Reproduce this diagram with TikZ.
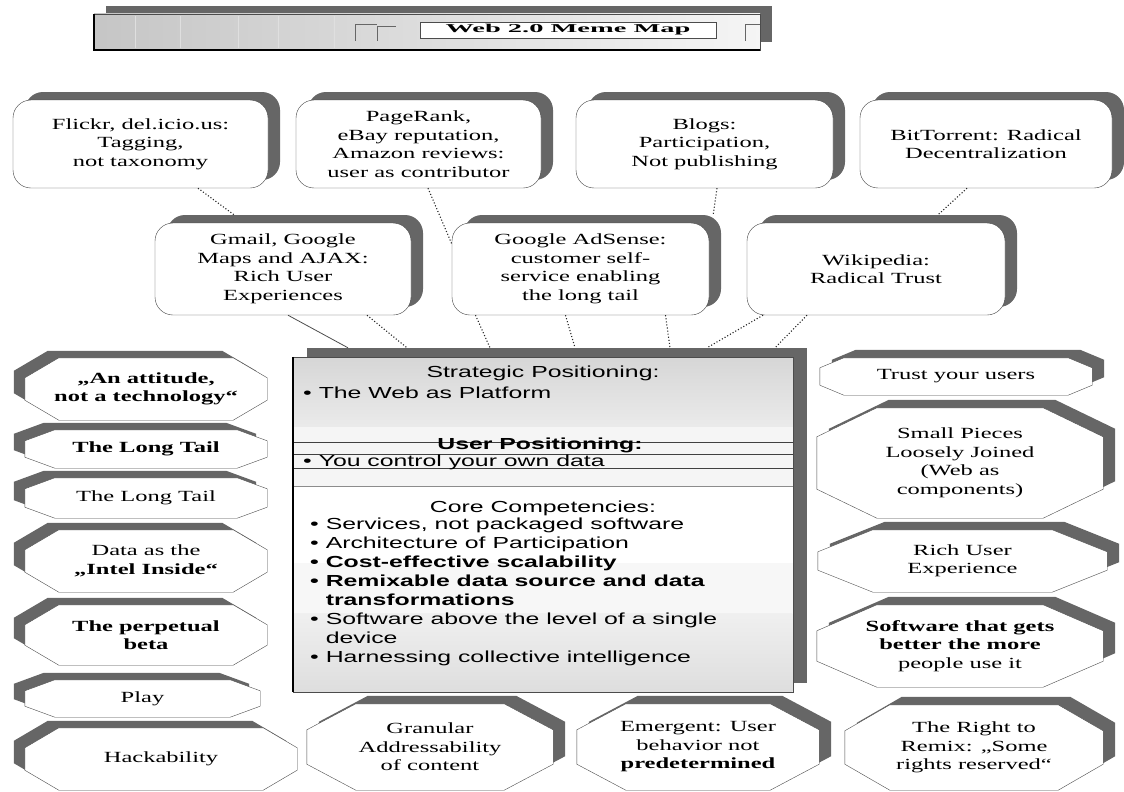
\documentclass[tikz,border=0pt]{standalone}
\usepackage{fontspec}
\setmainfont{Liberation Serif}[FakeStretch=1.58]
\setsansfont{Liberation Sans}[FakeStretch=1.55]
\usetikzlibrary{shadows}

\makeatletter
\pgfkeys{/pgf/octa xcut/.initial=34pt, /pgf/octa ycut/.initial=20pt}
\pgfdeclareshape{octabox}{%
  \inheritsavedanchors[from=rectangle]%
  \inheritanchorborder[from=rectangle]%
  \inheritanchor[from=rectangle]{center}%
  \inheritanchor[from=rectangle]{north}%
  \inheritanchor[from=rectangle]{south}%
  \inheritanchor[from=rectangle]{east}%
  \inheritanchor[from=rectangle]{west}%
  \inheritanchor[from=rectangle]{north east}%
  \inheritanchor[from=rectangle]{north west}%
  \inheritanchor[from=rectangle]{south east}%
  \inheritanchor[from=rectangle]{south west}%
  \backgroundpath{%
    \pgfmathsetlength\pgfutil@tempdima{\pgfkeysvalueof{/pgf/octa xcut}}%
    \pgfmathsetlength\pgfutil@tempdimb{\pgfkeysvalueof{/pgf/octa ycut}}%
    \southwest
    \edef\oct@l{\the\pgf@x}\edef\oct@b{\the\pgf@y}%
    \advance\pgf@x by\pgfutil@tempdima \edef\oct@lx{\the\pgf@x}%
    \advance\pgf@y by\pgfutil@tempdimb \edef\oct@by{\the\pgf@y}%
    \northeast
    \edef\oct@r{\the\pgf@x}\edef\oct@t{\the\pgf@y}%
    \advance\pgf@x by-\pgfutil@tempdima \edef\oct@rx{\the\pgf@x}%
    \advance\pgf@y by-\pgfutil@tempdimb \edef\oct@ty{\the\pgf@y}%
    \pgfpathmoveto{\pgfqpoint{\oct@l}{\oct@by}}%
    \pgfpathlineto{\pgfqpoint{\oct@l}{\oct@ty}}%
    \pgfpathlineto{\pgfqpoint{\oct@lx}{\oct@t}}%
    \pgfpathlineto{\pgfqpoint{\oct@rx}{\oct@t}}%
    \pgfpathlineto{\pgfqpoint{\oct@r}{\oct@ty}}%
    \pgfpathlineto{\pgfqpoint{\oct@r}{\oct@by}}%
    \pgfpathlineto{\pgfqpoint{\oct@rx}{\oct@b}}%
    \pgfpathlineto{\pgfqpoint{\oct@lx}{\oct@b}}%
    \pgfpathclose
  }%
}
\makeatother

\begin{document}
\begin{tikzpicture}[
    x=1pt, y=-1pt,
    font=\fontsize{15.5}{18.5}\selectfont,
    shadeR/.style={drop shadow={shadow xshift=12pt, shadow yshift=8pt, fill=black!60, opacity=1}},
    shadeL/.style={drop shadow={shadow xshift=-11pt, shadow yshift=7pt, fill=black!60, opacity=1}},
    memo/.style={rectangle, rounded corners=18pt, draw=black!75, fill=white, align=center, inner sep=2pt, minimum height=88pt, shadeR},
    facet/.style={octabox, octa xcut=34pt, octa ycut=20pt, draw=black!70, fill=white, align=center, inner sep=0pt},
    slim/.style={octa xcut=30pt, octa ycut=11pt},
    broad/.style={octa xcut=52pt, octa ycut=26pt},
    link/.style={dotted, line width=1.1pt, black!85},
    cellhead/.style={font=\sffamily\fontsize{16}{19}\selectfont, inner sep=0pt},
    bullets/.style={font=\sffamily\fontsize{16}{19}\selectfont, align=left, inner sep=0pt}
]
\useasboundingbox (0,0) rectangle (1124,792);

% title bar
\node[rectangle, minimum width=666pt, minimum height=36pt, draw=black!70, left color=gray!45, right color=gray!8, shadeR] (banner) at (427,32) {};
\foreach \bx in {135,180,238,278,334}
  \draw[gray!25] (\bx,16) -- (\bx,48);
\draw[line width=1.8pt] (banner.north west) |- (banner.south east);
\draw[black!60] (355,41) |- (377,24);
\draw[black!60] (377,41) |- (396,26);
\draw[black!60] (745,41) |- (760,24);
\node[draw=black!70, fill=white, minimum width=296pt, minimum height=16pt, inner sep=0pt, font=\bfseries\fontsize{12}{12}\selectfont] (title) at (568,30) {\scalebox{1.5}[1]{Web 2.0 Meme Map}};

% upper rows
\node[memo, minimum width=255pt] (flickr) at (140.5,144) {Flickr, del.icio.us:\\ Tagging,\\ not taxonomy};
\node[memo, minimum width=245pt] (pagerank) at (418.5,144) {PageRank,\\ eBay reputation,\\ Amazon reviews:\\ user as contributor};
\node[memo, minimum width=257pt] (blogs) at (704.5,144) {Blogs:\\ Participation,\\ Not publishing};
\node[memo, minimum width=252pt] (bittorrent) at (986,144) {BitTorrent: Radical\\ Decentralization};

\node[memo, minimum width=256pt, minimum height=92pt] (gmail) at (283,269) {Gmail, Google\\ Maps and AJAX:\\ Rich User\\ Experiences};
\node[memo, minimum width=257pt, minimum height=92pt] (adsense) at (580.5,269) {Google AdSense:\\ customer self-\\ service enabling\\ the long tail};
\node[memo, minimum width=258pt, minimum height=92pt] (wikipedia) at (876,269) {Wikipedia:\\ Radical Trust};

% centre block
\node[rectangle, minimum width=500pt, minimum height=335pt, draw=black!70, fill=white,
      drop shadow={shadow xshift=14pt, shadow yshift=9pt, fill=black!60, opacity=1}] (core) at (543,524.5) {};
\shade[top color=gray!32, bottom color=gray!16] (293.5,357.5) rectangle (792.5,427);
\fill[gray!8] (293.5,427) rectangle (792.5,486);
\fill[gray!6] (293.5,563) rectangle (792.5,613);
\shade[top color=gray!12, bottom color=gray!26] (293.5,613) rectangle (792.5,691.5);
\foreach \ly in {442,454,468}
  \draw[black!75, line width=0.8pt] (293,\ly) -- (793,\ly);
\draw[black!45] (293,486) -- (793,486);
\draw[black!70] (core.south west) rectangle (core.north east);
\draw[line width=2.5pt] (core.north west) -- (core.south west);

\node[cellhead] (strathead) at (543,373) {Strategic Positioning:};
\node[bullets, anchor=west] (stratlist) at (303,393) {\textbullet\ The Web as Platform};
\node[cellhead, font=\sffamily\bfseries\fontsize{16}{19}\selectfont] (userhead) at (540,445) {User Positioning:};
\node[bullets, anchor=west] (userlist) at (303,462) {\textbullet\ You control your own data};
\node[cellhead] (corehead) at (543,508) {Core Competencies:};
\node[bullets, anchor=north west] (corelist) at (310,518) {%
  \textbullet\ Services, not packaged software\\
  \textbullet\ Architecture of Participation\\
  \textbf{\textbullet\ Cost-effective scalability}\\
  \textbf{\textbullet\ Remixable data source and data}\\
  \textbf{\phantom{\textbullet\ }transformations}\\
  \textbullet\ Software above the level of a single\\
  \phantom{\textbullet\ }device\\
  \textbullet\ Harnessing collective intelligence};

% left column
\node[facet, shadeL, minimum width=242pt, minimum height=62pt, font=\bfseries\fontsize{15.5}{18.5}\selectfont] (attitude) at (146,389) {„An attitude,\\ not a technology“};
\node[facet, slim, shadeL, minimum width=242pt, minimum height=38pt, font=\bfseries\fontsize{15.5}{18.5}\selectfont] (longtailA) at (146,449) {The Long Tail};
\node[facet, slim, shadeL, minimum width=242pt, minimum height=40pt] (longtailB) at (146,498) {The Long Tail};
\node[facet, shadeL, minimum width=242pt, minimum height=62pt] (intel) at (146,561) {Data as the\\ \textbf{„Intel Inside“}};
\node[facet, shadeL, minimum width=242pt, minimum height=60pt, font=\bfseries\fontsize{15.5}{18.5}\selectfont] (beta) at (146,635) {The perpetual\\ beta};
\node[facet, slim, shadeL, minimum width=235pt, minimum height=37pt] (play) at (142.5,698.5) {Play};
\node[facet, shadeL, minimum width=272pt, minimum height=62pt] (hack) at (161,759) {Hackability};

% right column
\node[facet, slim, octa xcut=24pt, octa ycut=10pt, shadeR, minimum width=272pt, minimum height=37pt] (trust) at (956,376.5) {Trust your users};
\node[facet, octa xcut=60pt, octa ycut=29pt, shadeR, minimum width=286pt, minimum height=110pt] (pieces) at (960,463) {Small Pieces\\ Loosely Joined\\ (Web as\\ components)};
\node[facet, octa xcut=55pt, octa ycut=22pt, shadeR, minimum width=289pt, minimum height=62pt] (rich) at (962.5,561) {Rich User\\ Experience};
\node[facet, octa xcut=60pt, octa ycut=26pt, shadeR, minimum width=286pt, minimum height=82pt] (better) at (960,646) {\textbf{Software that gets}\\ \textbf{better the more}\\ people use it};
\node[facet, broad, octa xcut=45pt, shadeR, minimum width=258pt, minimum height=85pt] (remix) at (974,747.5) {The Right to\\ Remix: „Some\\ rights reserved“};

% bottom row
\node[facet, broad, octa xcut=49pt, shadeR, minimum width=246pt, minimum height=86pt] (granular) at (430,747) {Granular\\ Addressability\\ of content};
\node[facet, broad, octa xcut=49pt, shadeR, minimum width=242pt, minimum height=86pt] (emergent) at (698,747) {Emergent: User\\ behavior not\\ \textbf{predetermined}};

% links
\draw[link] ([xshift=57.5pt]flickr.south) -- ([xshift=-49pt,yshift=8pt]gmail.north);
\draw[link] ([xshift=9.5pt]pagerank.south) -- ([yshift=25pt]adsense.west);
\draw[link] ([xshift=12.5pt]blogs.south) -- ([xshift=4pt,yshift=8pt]adsense.north east);
\draw[link] ([xshift=-19pt]bittorrent.south) -- ([xshift=62pt,yshift=8pt]wikipedia.north);
\draw[black!70, line width=0.8pt] ([xshift=5pt]gmail.south) -- ([xshift=-195pt,yshift=9pt]core.north);
\draw[link] ([xshift=84pt]gmail.south) -- ([xshift=-136pt,yshift=9pt]core.north);
\draw[link] ([xshift=-105pt]adsense.south) -- ([xshift=-53pt,yshift=9pt]core.north);
\draw[link] ([xshift=-15pt]adsense.south) -- ([xshift=32pt,yshift=9pt]core.north);
\draw[link] ([xshift=85pt]adsense.south) -- ([xshift=127pt,yshift=9pt]core.north);
\draw[link] ([xshift=-113pt]wikipedia.south) -- ([xshift=164pt,yshift=9pt]core.north);
\draw[link] ([xshift=-69pt]wikipedia.south) -- ([xshift=232pt,yshift=9pt]core.north);
\end{tikzpicture}
\end{document}
